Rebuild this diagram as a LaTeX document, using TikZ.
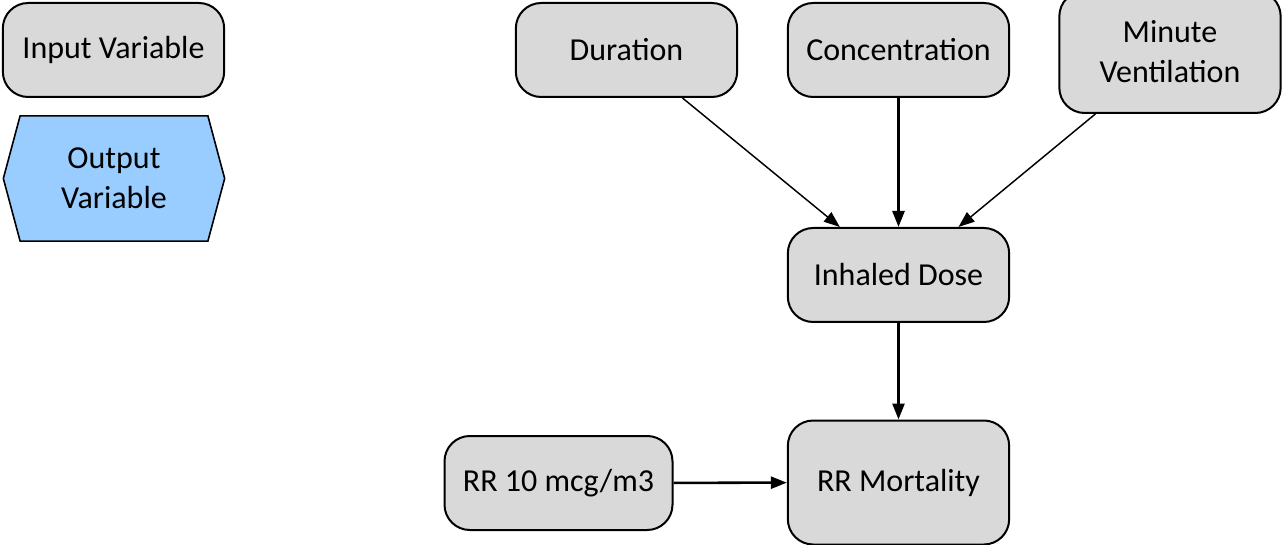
\documentclass[tikz,border=0pt]{standalone}
\usepackage{fontspec}
\setmainfont{Carlito}
\usetikzlibrary{arrows.meta,shapes.symbols}
\definecolor{boxgray}{RGB}{217,217,217}
\definecolor{outblue}{RGB}{153,204,255}
\tikzset{
  varbox/.style={draw, line width=1.5pt, fill=boxgray, rounded corners=19pt,
    minimum width=166pt, minimum height=70.5pt, align=center, inner sep=0.75pt,
    font=\fontsize{24}{30}\selectfont},
  outbox/.style={draw, line width=1.2pt, fill=outblue, shape=signal,
    signal to=east and west, signal pointer angle=150,
    minimum width=166pt, minimum height=94pt, align=center, inner sep=0.75pt,
    font=\fontsize{24}{30}\selectfont},
  link/.style={line width=1.1pt, -{Triangle[length=12pt,width=9pt]}},
  biglink/.style={link, line width=1.9pt},
}
\begin{document}
\begin{tikzpicture}[x=0.75pt,y=-0.75pt]
\useasboundingbox (0,0) rectangle (1282,545);
% Legend
\node [varbox] (inp) at (113.5,50) {Input Variable};
\node [outbox] (out) at (114,178.5) {Output\\Variable};
% Input nodes
\node [varbox] (dur) at (626.5,50) {Duration};
\node [varbox] (conc) at (898.5,50) {Concentration};
\node [varbox, minimum height=91.5pt] (vent) at (1170,52) {Minute\\Ventilation};
\node [varbox, minimum width=171pt] (rr) at (558.5,483) {RR 10 mcg/m3};
% Output nodes
\node [varbox] (dose) at (898.5,275) {Inhaled Dose};
\node [varbox, minimum height=93pt] (mort) at (898.5,482.5) {RR Mortality};
% Links
\draw [link] ([xshift=42pt]dur.south) -- ([xshift=-44pt]dose.north);
\draw [biglink] (conc) -- (dose);
\draw [link] ([xshift=-56pt]vent.south) -- ([xshift=45pt]dose.north);
\draw [biglink] (dose) -- (mort);
\draw [biglink] (rr) -- (mort);
\end{tikzpicture}
\end{document}
